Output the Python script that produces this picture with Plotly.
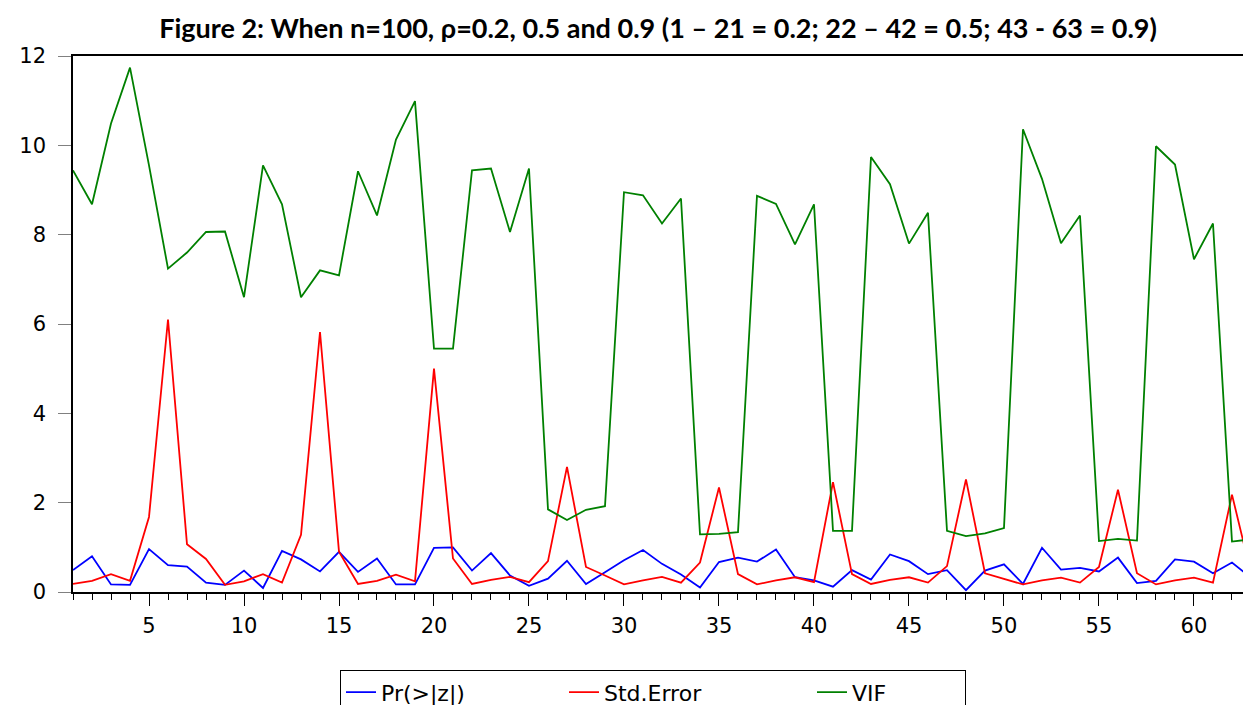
import plotly.graph_objects as go

obs = list(range(1, 64))

pr_z = [0.49, 0.80, 0.17, 0.16, 0.96, 0.60, 0.57, 0.21, 0.16, 0.48,
        0.09, 0.92, 0.73, 0.46, 0.90, 0.45, 0.75, 0.17, 0.17, 0.99,
        1.00, 0.48, 0.87, 0.37, 0.14, 0.30, 0.70, 0.18, 0.44, 0.71,
        0.94, 0.63, 0.39, 0.10, 0.67, 0.77, 0.68, 0.95, 0.33, 0.26,
        0.12, 0.49, 0.28, 0.84, 0.69, 0.40, 0.49, 0.04, 0.48, 0.62,
        0.18, 0.99, 0.50, 0.54, 0.46, 0.77, 0.20, 0.25, 0.73, 0.68,
        0.42, 0.66, 0.32]

std_error = [0.18, 0.25, 0.40, 0.25, 1.68, 6.10, 1.07, 0.74, 0.16, 0.24,
             0.40, 0.21, 1.28, 5.82, 0.90, 0.18, 0.25, 0.39, 0.24, 5.00,
             0.75, 0.18, 0.27, 0.34, 0.22, 0.69, 2.80, 0.56, 0.37, 0.17,
             0.26, 0.34, 0.21, 0.66, 2.34, 0.40, 0.17, 0.26, 0.33, 0.22,
             2.46, 0.40, 0.18, 0.27, 0.33, 0.21, 0.58, 2.52, 0.42, 0.30,
             0.17, 0.26, 0.32, 0.21, 0.56, 2.29, 0.42, 0.17, 0.26, 0.32,
             0.21, 2.18, 0.42]

vif = [9.44, 8.68, 10.49, 11.74, 9.55, 7.24, 7.60, 8.06, 8.07, 6.60,
       9.55, 8.68, 6.60, 7.20, 7.09, 9.42, 8.43, 10.13, 10.99, 5.45,
       5.45, 9.44, 9.48, 8.06, 9.48, 1.85, 1.61, 1.84, 1.92, 8.95,
       8.88, 8.25, 8.81, 1.29, 1.30, 1.34, 8.87, 8.69, 7.78, 8.68,
       1.37, 1.37, 9.74, 9.13, 7.80, 8.49, 1.37, 1.25, 1.31, 1.43,
       10.36, 9.25, 7.81, 8.43, 1.14, 1.19, 1.15, 9.98, 9.57, 7.45,
       8.25, 1.13, 1.18]

x_ticks = [5, 10, 15, 20, 25, 30, 35, 40, 45, 50, 55, 60]
y_ticks = [0, 2, 4, 6, 8, 10, 12]

title_text = "Figure 2: When n=100, ρ=0.2, 0.5 and 0.9 (1 – 21 = 0.2; 22 – 42 = 0.5; 43 - 63 = 0.9)"

fig = go.Figure()
fig.add_trace(go.Scatter(x=obs, y=pr_z, mode="lines", name="Pr(>|z|)",
                         legendwidth=178,
                         line=dict(color="#0000FF", width=1.8)))
fig.add_trace(go.Scatter(x=obs, y=std_error, mode="lines", name="Std.Error",
                         legendwidth=203,
                         line=dict(color="#FF0000", width=1.8)))
fig.add_trace(go.Scatter(x=obs, y=vif, mode="lines", name="VIF",
                         legendwidth=108,
                         line=dict(color="#008000", width=1.8)))

fig.update_layout(
    width=1243, height=705,
    margin=dict(l=73, r=0, t=56, b=113, pad=0, autoexpand=False),
    paper_bgcolor="white", plot_bgcolor="white",
    font=dict(family="DejaVu Sans, sans-serif", size=21, color="black"),
    title=dict(text="<b>" + title_text + "</b>", x=0.5294, xref="container",
               xanchor="center", y=0.96, yref="container", yanchor="middle",
               font=dict(family="Lato, sans-serif", size=27, color="black")),
    showlegend=True,
    legend=dict(orientation="h", x=(340 - 73) / 1170, xanchor="left",
                y=-(670 - 591.7) / 535.7, yanchor="top",
                bordercolor="black", borderwidth=1, bgcolor="white",
                font=dict(size=22, family="DejaVu Sans, sans-serif")),
    xaxis=dict(range=[1, 62.58], tickmode="array", tickvals=x_ticks,
               ticks="outside", ticklen=12, tickwidth=1, tickcolor="black",
               showline=True, linecolor="black", linewidth=1.5, mirror=True,
               showgrid=False, zeroline=False, ticklabelstandoff=2,
               minor=dict(dtick=1, tick0=0, ticks="outside", ticklen=6,
                          tickcolor="black", tickwidth=1, showgrid=False)),
    yaxis=dict(range=[0, 12], tickmode="array", tickvals=y_ticks,
               ticks="outside", ticklen=13, tickwidth=1, tickcolor="#808080",
               showline=True, linecolor="black", linewidth=1.5, mirror=True,
               showgrid=False, zeroline=False, ticklabelstandoff=8),
)

fig.write_html("out.html", config={"displayModeBar": False},
               post_script="document.body.style.margin='0';document.body.style.overflow='hidden';")
